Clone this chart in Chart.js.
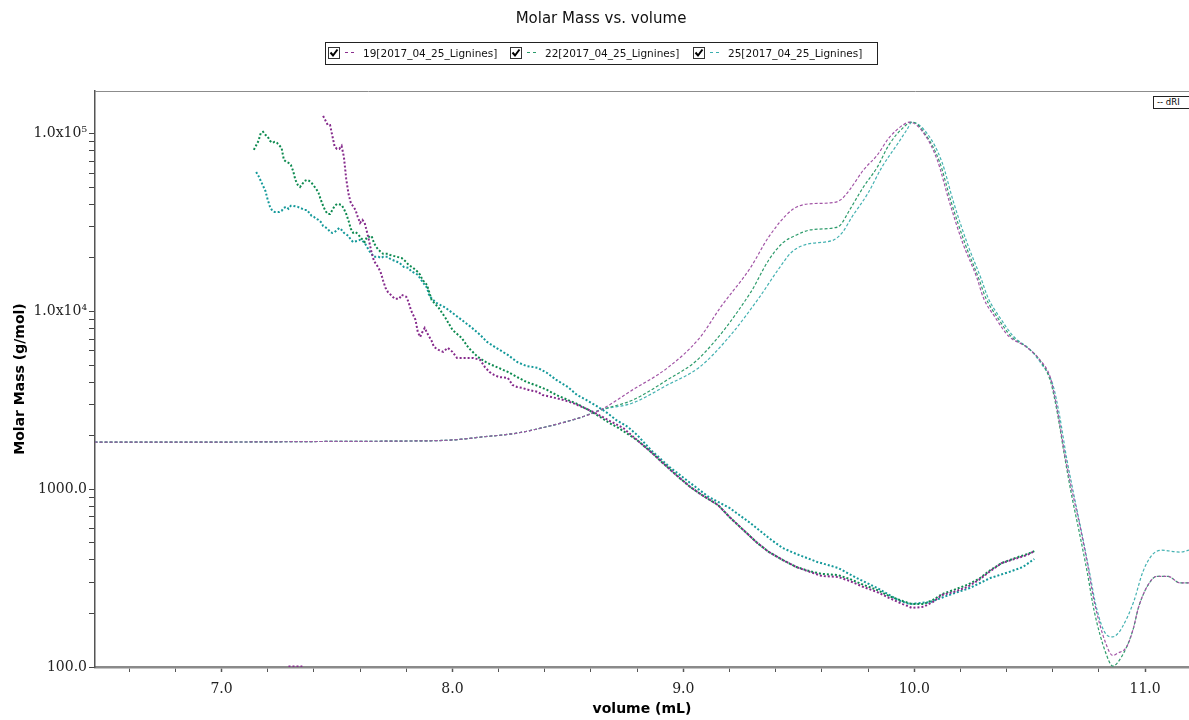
<!DOCTYPE html>
<html>
<head>
<meta charset="utf-8">
<title>Molar Mass vs. volume</title>
<script src="https://cdn.jsdelivr.net/npm/chart.js@4.4.1/dist/chart.umd.min.js"></script>
<style>
  body { margin: 0; background: #fff; overflow: hidden; font-family: "DejaVu Sans", sans-serif; }
  #wrap { position: relative; width: 1189px; height: 720px; }
  #title { position: absolute; left: 0; width: 1202px; top: 9px; text-align: center; font-size: 15px; color: #111; }
  #legend { position: absolute; left: 325px; top: 42px; width: 551px; height: 21px; border: 1px solid #222; font-size: 10.5px; color: #111; }
  .item { position: absolute; top: 4px; white-space: nowrap; line-height: 13px; }
  .item svg { vertical-align: top; }
  .dash { display: inline-block; width: 9px; border-top: 1px dashed; vertical-align: middle; margin: 0 9px 3px 5px; }
  #dri { position: absolute; left: 1153px; top: 96px; width: 32px; height: 11px; line-height: 11px; border: 1px solid #222;
         font-size: 8.5px; padding: 0 0 0 3px; background: #fff; white-space: nowrap; overflow: hidden; }
  canvas { position: absolute; left: 0; top: 0; }
</style>
</head>
<body>
<div id="wrap">
  <canvas id="chart" width="1189" height="720"></canvas>
  <div id="title">Molar Mass vs. volume</div>
  <div id="legend">
    <span class="item" style="left:2px"><svg width="12" height="12"><rect x="0.5" y="0.5" width="11" height="11" fill="#fff" stroke="#333"/><path d="M2.5 5.5 L5 8.5 L9.5 2.5" stroke="#000" stroke-width="2" fill="none"/></svg><span class="dash" style="color:#8a2e8e"></span>19[2017_04_25_Lignines]</span>
    <span class="item" style="left:184px"><svg width="12" height="12"><rect x="0.5" y="0.5" width="11" height="11" fill="#fff" stroke="#333"/><path d="M2.5 5.5 L5 8.5 L9.5 2.5" stroke="#000" stroke-width="2" fill="none"/></svg><span class="dash" style="color:#2a9a6a"></span>22[2017_04_25_Lignines]</span>
    <span class="item" style="left:367px"><svg width="12" height="12"><rect x="0.5" y="0.5" width="11" height="11" fill="#fff" stroke="#333"/><path d="M2.5 5.5 L5 8.5 L9.5 2.5" stroke="#000" stroke-width="2" fill="none"/></svg><span class="dash" style="color:#3aaeae"></span>25[2017_04_25_Lignines]</span>
  </div>
  <div id="dri">-- dRI</div>
</div>
<script>
"use strict";
// series names
var seriesNames = ["19[2017_04_25_Lignines]", "22[2017_04_25_Lignines]", "25[2017_04_25_Lignines]"];

// tick labels
var xTickValues = [7, 8, 9, 10, 11];
var xTickLabels = ["7.0", "8.0", "9.0", "10.0", "11.0"];
var yTickValues = [100, 1000, 10000, 100000];
var yTickLabels = ["100.0", "1000.0", "1.0x10\u2074", "1.0x10\u2075"];

// molar mass (g/mol) vs volume (mL)
var mwVol19 = [7.29, 7.31, 7.33, 7.35, 7.40,
  7.44, 7.46, 7.47, 7.48, 7.49, 7.50, 7.51, 7.52, 7.53, 7.54, 7.55, 7.56, 7.58, 7.59, 7.60, 7.61, 7.62, 7.63, 7.64, 7.65,
  7.66, 7.68, 7.69, 7.70, 7.71, 7.72, 7.75, 7.77, 7.78, 7.80, 7.81, 7.82, 7.84, 7.85, 7.86, 7.87, 7.88, 7.89, 7.91, 7.92,
  7.94, 7.96, 7.98, 8.00, 8.02, 8.06, 8.09, 8.12, 8.14, 8.16, 8.18, 8.20, 8.24, 8.26, 8.28, 8.30, 8.33, 8.37, 8.39, 8.43,
  8.48, 8.52, 8.56, 8.61, 8.65, 8.69, 8.74, 8.80, 8.86, 8.91, 8.97, 9.03, 9.08, 9.15, 9.20, 9.26, 9.32, 9.37, 9.43, 9.49,
  9.55, 9.60, 9.67, 9.72, 9.78, 9.84, 9.89, 9.95, 9.99, 10.04, 10.08, 10.12, 10.17, 10.23, 10.28, 10.33, 10.38, 10.45, 10.49, 10.52];
var mw19 = [100.5, 100.5, 100.5, 100.5, null,
  126000, 112000, 112000, 97300, 84400, 82200, 82200, 85500, 74100, 55700, 45900, 40800, 37300, 34100, 31500, 32800, 31500, 28000, 24600, 21400,
  19300, 17600, 16500, 14900, 13600, 12900, 11800, 11800, 12400, 12100, 11300, 10200, 8970, 7670, 7190, 7670, 8090, 7580, 6830, 6320,
  6080, 5930, 6240, 5930, 5480, 5480, 5480, 5340, 4880, 4570, 4400, 4280, 4230, 3860, 3760, 3720, 3620, 3530, 3390, 3300,
  3180, 3060, 2910, 2720, 2550, 2390, 2210, 1890, 1620, 1410, 1200, 1030, 929, 816, 698, 590, 499, 444, 400, 365,
  342, 325, 321, 305, 282, 264, 245, 226, 215, 218, 232, 254, 264, 282, 309, 347, 385, 411, 427, 449];

var mwVol22 = [7.14, 7.16, 7.17, 7.18, 7.19, 7.20, 7.21, 7.22, 7.23, 7.24, 7.26, 7.27, 7.28, 7.29, 7.30, 7.31, 7.32, 7.33, 7.34, 7.35,
  7.36, 7.37, 7.38, 7.39, 7.41, 7.42, 7.43, 7.44, 7.45, 7.46, 7.47, 7.48, 7.49, 7.50, 7.52, 7.53, 7.54, 7.55, 7.56, 7.57,
  7.58, 7.59, 7.60, 7.62, 7.63, 7.64, 7.65, 7.66, 7.67, 7.68, 7.70, 7.72, 7.73, 7.76, 7.78, 7.80, 7.81, 7.83, 7.85, 7.86,
  7.87, 7.89, 7.91, 7.94, 7.97, 8.00, 8.04, 8.07, 8.11, 8.15, 8.19, 8.24, 8.28, 8.32, 8.37, 8.41, 8.45, 8.50, 8.54, 8.59,
  8.64, 8.68, 8.72, 8.80, 8.86, 8.91, 8.97, 9.03, 9.08, 9.15, 9.20, 9.26, 9.32, 9.37, 9.43, 9.49, 9.55, 9.60, 9.67, 9.72,
  9.78, 9.84, 9.89, 9.95, 9.99, 10.04, 10.08, 10.12, 10.17, 10.23, 10.28, 10.33, 10.38, 10.45, 10.49, 10.52];
var mw22 = [81200, 91200, 101000, 102500, 98600, 96100, 91200, 88900, 90000, 88900, 83300, 71300, 69500, 68600, 66800, 61800, 55000, 51600, 50200, 52200,
  54300, 55000, 54300, 52900, 49000, 46500, 42500, 39300, 36800, 35400, 35400, 37300, 39300, 40300, 39800, 37800, 35400, 32400, 29200, 27700,
  28000, 27300, 26300, 24600, 26300, 26300, 26600, 24300, 23100, 22200, 21100, 21100, 20800, 20300, 20000, 19000, 18300, 17600, 16700, 16100,
  15100, 14100, 11600, 10500, 9200, 7880, 7100, 6240, 5550, 5140, 4880, 4570, 4280, 4020, 3810, 3620, 3390, 3180, 3020, 2790,
  2550, 2360, 2210, 1890, 1620, 1410, 1200, 1030, 929, 816, 698, 590, 499, 444, 400, 365, 345, 334, 329, 313,
  290, 271, 251, 235, 226, 226, 238, 257, 271, 290, 313, 351, 385, 416, 432, 449];

var mwVol25 = [7.15, 7.16, 7.17, 7.18, 7.19, 7.20, 7.21, 7.22, 7.23, 7.25, 7.26, 7.27, 7.28, 7.29, 7.30, 7.31, 7.33, 7.35, 7.36, 7.37,
  7.38, 7.39, 7.40, 7.41, 7.42, 7.43, 7.44, 7.46, 7.47, 7.48, 7.49, 7.51, 7.52, 7.53, 7.55, 7.56, 7.57, 7.59, 7.60, 7.61,
  7.62, 7.63, 7.64, 7.65, 7.66, 7.68, 7.69, 7.70, 7.72, 7.73, 7.74, 7.75, 7.77, 7.78, 7.79, 7.81, 7.82, 7.85, 7.87, 7.89,
  7.90, 7.93, 7.97, 8.00, 8.04, 8.08, 8.12, 8.15, 8.19, 8.24, 8.28, 8.32, 8.37, 8.41, 8.45, 8.50, 8.54, 8.58, 8.63, 8.67,
  8.71, 8.76, 8.80, 8.86, 8.94, 9.03, 9.11, 9.20, 9.29, 9.37, 9.43, 9.49, 9.58, 9.67, 9.75, 9.84, 9.93, 9.98, 10.07, 10.15,
  10.24, 10.33, 10.41, 10.47, 10.52];
var mw25 = [61000, 57900, 54300, 50900, 47700, 42500, 38800, 36800, 36300, 36300, 36800, 38300, 38800, 37800, 39300, 39300, 38800, 37800, 37300, 37300,
  35900, 34500, 34100, 33200, 32800, 31900, 30300, 29200, 28000, 27700, 28000, 29500, 28800, 27700, 26600, 25300, 24600, 25000, 25300, 25000,
  24300, 23100, 21900, 21100, 20300, 20300, 20000, 20300, 20300, 19800, 19500, 19300, 18800, 18300, 17800, 17600, 16900, 16100, 14700, 13600,
  12200, 11200, 10500, 9820, 8970, 8190, 7390, 6740, 6240, 5700, 5200, 4940, 4820, 4510, 4120, 3760, 3390, 3180, 2910, 2690,
  2450, 2240, 2020, 1660, 1335, 1085, 905, 785, 646, 532, 467, 432, 390, 361, 317, 278, 238, 226, 232, 254,
  278, 317, 342, 365, 405];

// dRI traces (relative, peak = 1)
var driVol19 = [6.45, 7.0, 7.5, 7.77, 7.99, 8.13, 8.28, 8.42, 8.56, 8.64, 8.78, 8.93, 9.07, 9.16, 9.29, 9.37, 9.47, 9.54, 9.63, 9.68,
  9.72, 9.78, 9.84, 9.89, 9.95, 9.98, 10.04, 10.10, 10.15, 10.21, 10.27, 10.30, 10.35, 10.41, 10.48, 10.54, 10.59, 10.62, 10.65, 10.68,
  10.72, 10.75, 10.78, 10.83, 10.86, 10.88, 10.92, 10.95, 10.97, 11.01, 11.05, 11.10, 11.15, 11.19];
var dri19 = [0, 0, 0.002, 0.003, 0.006, 0.016, 0.028, 0.05, 0.078, 0.1, 0.163, 0.231, 0.325, 0.42, 0.544, 0.641, 0.725, 0.744, 0.747, 0.756,
  0.788, 0.85, 0.897, 0.95, 0.99, 1.0, 0.966, 0.881, 0.756, 0.622, 0.516, 0.45, 0.39, 0.33, 0.30, 0.26, 0.2, 0.1, -0.03, -0.14,
  -0.27, -0.38, -0.5, -0.63, -0.667, -0.66, -0.64, -0.58, -0.52, -0.45, -0.42, -0.42, -0.44, -0.44];

var driVol22 = [6.45, 7.0, 7.5, 7.77, 7.99, 8.13, 8.28, 8.42, 8.56, 8.64, 8.78, 8.93, 9.07, 9.29, 9.37, 9.43, 9.49, 9.55, 9.65, 9.68,
  9.72, 9.78, 9.84, 9.89, 9.95, 9.99, 10.05, 10.11, 10.16, 10.22, 10.28, 10.31, 10.36, 10.42, 10.49, 10.55, 10.59, 10.62, 10.65, 10.68,
  10.72, 10.75, 10.78, 10.83, 10.86, 10.88, 10.92, 10.95, 10.97, 11.01, 11.05, 11.10, 11.15, 11.19];
var dri22 = [0, 0, 0.002, 0.003, 0.006, 0.016, 0.028, 0.05, 0.078, 0.1, 0.131, 0.194, 0.263, 0.466, 0.569, 0.622, 0.647, 0.663, 0.669, 0.678,
  0.725, 0.797, 0.859, 0.928, 0.981, 1.0, 0.96, 0.875, 0.75, 0.62, 0.51, 0.45, 0.39, 0.33, 0.295, 0.25, 0.19, 0.09, -0.04, -0.16,
  -0.3, -0.41, -0.53, -0.66, -0.70, -0.69, -0.64, -0.58, -0.52, -0.45, -0.42, -0.42, -0.44, -0.44];

var driVol25 = [6.45, 7.0, 7.5, 7.77, 7.99, 8.13, 8.28, 8.42, 8.56, 8.64, 8.78, 8.93, 9.07, 9.20, 9.33, 9.41, 9.47, 9.54, 9.65, 9.69,
  9.73, 9.80, 9.86, 9.93, 9.97, 9.99, 10.06, 10.12, 10.17, 10.23, 10.29, 10.32, 10.37, 10.43, 10.50, 10.55, 10.60, 10.63, 10.66, 10.69,
  10.73, 10.76, 10.79, 10.83, 10.86, 10.88, 10.90, 10.95, 10.99, 11.03, 11.07, 11.15, 11.19];
var dri25 = [0, 0, 0.002, 0.003, 0.006, 0.016, 0.028, 0.05, 0.078, 0.1, 0.122, 0.178, 0.234, 0.33, 0.453, 0.538, 0.594, 0.619, 0.631, 0.656,
  0.703, 0.778, 0.859, 0.934, 0.978, 1.0, 0.96, 0.875, 0.75, 0.62, 0.51, 0.45, 0.39, 0.33, 0.29, 0.245, 0.18, 0.08, -0.05, -0.16,
  -0.3, -0.41, -0.52, -0.6, -0.609, -0.6, -0.58, -0.5, -0.406, -0.353, -0.338, -0.344, -0.338];

function pts(xs, ys) {
  var out = [];
  for (let i = 0; i < Math.min(xs.length, ys.length); i++) {
    out.push({ x: xs[i], y: ys[i] });
  }
  return out;
}

function mwSet(label, xs, ys, color) {
  return {
    label: label, data: pts(xs, ys), yAxisID: "y",
    borderColor: color, borderWidth: 2, borderDash: [2, 2],
    pointRadius: 0, tension: 0, spanGaps: false
  };
}

function driSet(label, xs, ys, color) {
  return {
    label: label + " dRI", data: pts(xs, ys), yAxisID: "y2",
    borderColor: color, borderWidth: 1.2, borderDash: [3, 2],
    pointRadius: 0, cubicInterpolationMode: "monotone"
  };
}

//top border of the plot box
var frame = {
  id: "frame",
  afterDraw: function (chart) {
    var a = chart.chartArea, ctx = chart.ctx;
    ctx.save();
    ctx.strokeStyle = "#8c8c8c";
    ctx.lineWidth = 1;
    ctx.beginPath();
    ctx.moveTo(a.left, a.top + 0.5);
    ctx.lineTo(a.right, a.top + 0.5);
    ctx.stroke();
    ctx.restore();
  }
};

new Chart(document.getElementById("chart"), {
  type: "line",
  data: {
    datasets: [
      mwSet(seriesNames[0], mwVol19, mw19, "#862b8c"),
      mwSet(seriesNames[1], mwVol22, mw22, "#0d8a50"),
      mwSet(seriesNames[2], mwVol25, mw25, "#14999a"),
      driSet(seriesNames[0], driVol19, dri19, "#a255a6"),
      driSet(seriesNames[1], driVol22, dri22, "#2e9c6c"),
      driSet(seriesNames[2], driVol25, dri25, "#45b2b2")
    ]
  },
  options: {
    responsive: false,
    animation: false,
    layout: { padding: { top: 91, left: 0, right: 0, bottom: 0 } },
    plugins: { legend: { display: false }, tooltip: { enabled: false }, title: { display: false } },
    scales: {
      x: {
        type: "linear", min: 6.452, max: 11.19,
        afterFit: function (s) { s.height = 53; },
        afterBuildTicks: function (s) {
          var t = [];
          for (let i = 0; i <= 22; i++) t.push({ value: Math.round((6.6 + i * 0.2) * 10) / 10 });
          s.ticks = t;
        },
        grid: { drawOnChartArea: false, tickLength: 5, tickColor: "#555",
          tickWidth: function (c) { return xTickValues.indexOf(c.tick && c.tick.value) >= 0 ? 1.5 : 1; } },
        border: { color: "#8a8a8a", width: 2.5 },
        ticks: {
          autoSkip: false, maxRotation: 0, padding: 9, color: "#222",
          font: { family: "DejaVu Serif", size: 14 },
          callback: function (v) {
            var k = xTickValues.indexOf(v);
            return k >= 0 ? xTickLabels[k] : "";
          }
        },
        title: { display: true, text: "volume (mL)", color: "#000", padding: { top: 0, bottom: 2 },
          font: { family: "DejaVu Sans", size: 14, weight: "bold" } }
      },
      y: {
        type: "logarithmic", position: "left", min: 100, max: 174000,
        afterFit: function (s) { s.width = 95; },
        afterBuildTicks: function (s) {
          var t = [];
          for (let d = 100; d < 100000; d *= 10) {
            for (let m = 1; m <= 9; m++) t.push({ value: d * m });
          }
          t.push({ value: 100000 });
          s.ticks = t;
        },
        grid: { drawOnChartArea: false, tickLength: 6, tickColor: "#444" },
        border: { color: "#555", width: 1.5 },
        ticks: {
          autoSkip: false, padding: 2, color: "#222",
          font: { family: "DejaVu Serif", size: 14 },
          callback: function (v) {
            var k = yTickValues.indexOf(v);
            return k >= 0 ? yTickLabels[k] : "";
          }
        },
        title: { display: true, text: "Molar Mass (g/mol)", color: "#000", padding: { top: 12, bottom: 0 },
          font: { family: "DejaVu Sans", size: 14, weight: "bold" } }
      },
      y2: { type: "linear", display: false, min: -0.703, max: 1.097 }
    }
  },
  plugins: [frame]
});
</script>
</body>
</html>
